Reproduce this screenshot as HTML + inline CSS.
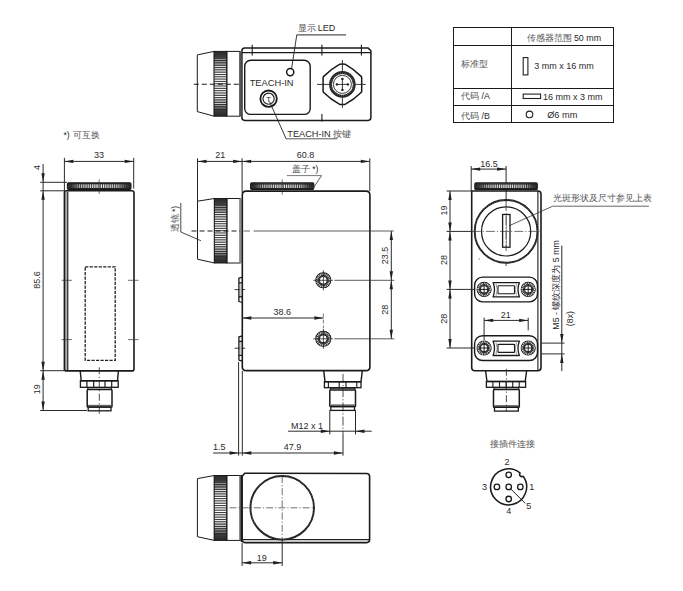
<!DOCTYPE html>
<html><head><meta charset="utf-8"><style>
html,body{margin:0;padding:0;background:#fff;width:683px;height:591px;overflow:hidden}
svg{display:block}
</style></head><body>
<svg width="683" height="591" viewBox="0 0 683 591">
<rect width="683" height="591" fill="#fff"/>
<polygon points="197.3,54.9 214.2,51.4 214.2,116.2 197.3,111.6" stroke="#1a1a1a" stroke-width="1.0" fill="none" stroke-linejoin="round"/>
<defs><linearGradient id="kv1" x1="0" y1="0" x2="0" y2="1"><stop offset="0" stop-color="#2a2a2a"/><stop offset="0.12" stop-color="#444"/><stop offset="0.3" stop-color="#9a9a9a"/><stop offset="0.5" stop-color="#b0b0b0"/><stop offset="0.7" stop-color="#9a9a9a"/><stop offset="0.86" stop-color="#444"/><stop offset="1" stop-color="#2a2a2a"/></linearGradient></defs>
<rect x="214.2" y="51.4" width="12.600000000000023" height="64.80000000000001" fill="url(#kv1)" stroke="#1a1a1a" stroke-width="1"/>
<line x1="214.7" y1="59.50" x2="226.3" y2="59.50" stroke="#fff" stroke-width="0.64" stroke-opacity="0.68"/>
<line x1="214.7" y1="60.60" x2="226.3" y2="60.60" stroke="#222" stroke-width="0.8"/>
<line x1="214.7" y1="61.81" x2="226.3" y2="61.81" stroke="#fff" stroke-width="0.71" stroke-opacity="0.78"/>
<line x1="214.7" y1="62.91" x2="226.3" y2="62.91" stroke="#222" stroke-width="0.8"/>
<line x1="214.7" y1="64.13" x2="226.3" y2="64.13" stroke="#fff" stroke-width="0.78" stroke-opacity="0.88"/>
<line x1="214.7" y1="65.23" x2="226.3" y2="65.23" stroke="#222" stroke-width="0.8"/>
<line x1="214.7" y1="66.44" x2="226.3" y2="66.44" stroke="#fff" stroke-width="0.85" stroke-opacity="0.97"/>
<line x1="214.7" y1="67.54" x2="226.3" y2="67.54" stroke="#222" stroke-width="0.8"/>
<line x1="214.7" y1="68.76" x2="226.3" y2="68.76" stroke="#fff" stroke-width="0.91" stroke-opacity="1.00"/>
<line x1="214.7" y1="69.86" x2="226.3" y2="69.86" stroke="#222" stroke-width="0.8"/>
<line x1="214.7" y1="71.07" x2="226.3" y2="71.07" stroke="#fff" stroke-width="0.96" stroke-opacity="1.00"/>
<line x1="214.7" y1="72.17" x2="226.3" y2="72.17" stroke="#222" stroke-width="0.8"/>
<line x1="214.7" y1="73.39" x2="226.3" y2="73.39" stroke="#fff" stroke-width="1.01" stroke-opacity="1.00"/>
<line x1="214.7" y1="74.49" x2="226.3" y2="74.49" stroke="#222" stroke-width="0.8"/>
<line x1="214.7" y1="75.70" x2="226.3" y2="75.70" stroke="#fff" stroke-width="1.04" stroke-opacity="1.00"/>
<line x1="214.7" y1="76.80" x2="226.3" y2="76.80" stroke="#222" stroke-width="0.8"/>
<line x1="214.7" y1="78.01" x2="226.3" y2="78.01" stroke="#fff" stroke-width="1.07" stroke-opacity="1.00"/>
<line x1="214.7" y1="79.11" x2="226.3" y2="79.11" stroke="#222" stroke-width="0.8"/>
<line x1="214.7" y1="80.33" x2="226.3" y2="80.33" stroke="#fff" stroke-width="1.09" stroke-opacity="1.00"/>
<line x1="214.7" y1="81.43" x2="226.3" y2="81.43" stroke="#222" stroke-width="0.8"/>
<line x1="214.7" y1="82.64" x2="226.3" y2="82.64" stroke="#fff" stroke-width="1.10" stroke-opacity="1.00"/>
<line x1="214.7" y1="83.74" x2="226.3" y2="83.74" stroke="#222" stroke-width="0.8"/>
<line x1="214.7" y1="84.96" x2="226.3" y2="84.96" stroke="#fff" stroke-width="1.10" stroke-opacity="1.00"/>
<line x1="214.7" y1="86.06" x2="226.3" y2="86.06" stroke="#222" stroke-width="0.8"/>
<line x1="214.7" y1="87.27" x2="226.3" y2="87.27" stroke="#fff" stroke-width="1.09" stroke-opacity="1.00"/>
<line x1="214.7" y1="88.37" x2="226.3" y2="88.37" stroke="#222" stroke-width="0.8"/>
<line x1="214.7" y1="89.59" x2="226.3" y2="89.59" stroke="#fff" stroke-width="1.07" stroke-opacity="1.00"/>
<line x1="214.7" y1="90.69" x2="226.3" y2="90.69" stroke="#222" stroke-width="0.8"/>
<line x1="214.7" y1="91.90" x2="226.3" y2="91.90" stroke="#fff" stroke-width="1.04" stroke-opacity="1.00"/>
<line x1="214.7" y1="93.00" x2="226.3" y2="93.00" stroke="#222" stroke-width="0.8"/>
<line x1="214.7" y1="94.21" x2="226.3" y2="94.21" stroke="#fff" stroke-width="1.01" stroke-opacity="1.00"/>
<line x1="214.7" y1="95.31" x2="226.3" y2="95.31" stroke="#222" stroke-width="0.8"/>
<line x1="214.7" y1="96.53" x2="226.3" y2="96.53" stroke="#fff" stroke-width="0.96" stroke-opacity="1.00"/>
<line x1="214.7" y1="97.63" x2="226.3" y2="97.63" stroke="#222" stroke-width="0.8"/>
<line x1="214.7" y1="98.84" x2="226.3" y2="98.84" stroke="#fff" stroke-width="0.91" stroke-opacity="1.00"/>
<line x1="214.7" y1="99.94" x2="226.3" y2="99.94" stroke="#222" stroke-width="0.8"/>
<line x1="214.7" y1="101.16" x2="226.3" y2="101.16" stroke="#fff" stroke-width="0.85" stroke-opacity="0.97"/>
<line x1="214.7" y1="102.26" x2="226.3" y2="102.26" stroke="#222" stroke-width="0.8"/>
<line x1="214.7" y1="103.47" x2="226.3" y2="103.47" stroke="#fff" stroke-width="0.78" stroke-opacity="0.88"/>
<line x1="214.7" y1="104.57" x2="226.3" y2="104.57" stroke="#222" stroke-width="0.8"/>
<line x1="214.7" y1="105.79" x2="226.3" y2="105.79" stroke="#fff" stroke-width="0.71" stroke-opacity="0.78"/>
<line x1="214.7" y1="106.89" x2="226.3" y2="106.89" stroke="#222" stroke-width="0.8"/>
<line x1="214.7" y1="108.10" x2="226.3" y2="108.10" stroke="#fff" stroke-width="0.64" stroke-opacity="0.68"/>
<line x1="214.7" y1="109.20" x2="226.3" y2="109.20" stroke="#222" stroke-width="0.8"/>
<rect x="226.8" y="51.4" width="13.199999999999989" height="64.80000000000001" rx="0" stroke="#1a1a1a" stroke-width="1.0" fill="none"/>
<path d="M241.9,51 Q241.9,48.1 244.8,48.1 L368.2,48.1 L370.9,50.8 L370.9,117.6 Q370.9,120.4 368.1,120.4 L244.7,120.4 Q241.9,120.4 241.9,117.6 Z" stroke="#1a1a1a" stroke-width="1.5" fill="none" stroke-linejoin="round"/>
<line x1="242" y1="52.6" x2="370.9" y2="52.6" stroke="#1a1a1a" stroke-width="1.3" stroke-linecap="butt"/>
<rect x="239.3" y="51.4" width="2.2" height="64.8" fill="#555"/>
<line x1="252.2" y1="44.8" x2="252.2" y2="55.4" stroke="#1a1a1a" stroke-width="1.1" stroke-linecap="butt"/>
<line x1="321.9" y1="44.8" x2="321.9" y2="55.4" stroke="#1a1a1a" stroke-width="1.1" stroke-linecap="butt"/>
<line x1="361.4" y1="44.8" x2="361.4" y2="55.4" stroke="#1a1a1a" stroke-width="1.1" stroke-linecap="butt"/>
<line x1="321.9" y1="114" x2="321.9" y2="121.6" stroke="#1a1a1a" stroke-width="1.1" stroke-linecap="butt"/>
<rect x="244.7" y="60.3" width="65.5" height="54.1" rx="6" stroke="#1a1a1a" stroke-width="1.4" fill="none"/>
<circle cx="290.2" cy="72.1" r="3.6" stroke="#1a1a1a" stroke-width="1.5" fill="none"/>
<text x="271.6" y="82.8" font-family="Liberation Sans" font-size="9.3" text-anchor="middle" fill="#2a2a2a" dominant-baseline="central">TEACH-IN</text>
<circle cx="268.6" cy="98.7" r="8.2" stroke="#1a1a1a" stroke-width="1.8" fill="none"/>
<circle cx="268.6" cy="98.7" r="5.6" stroke="#1a1a1a" stroke-width="1.1" fill="none"/>
<text x="268.6" y="99.4" font-family="Liberation Sans" font-size="7.8" text-anchor="middle" fill="#2a2a2a" dominant-baseline="central">T</text>
<line x1="193.8" y1="84.2" x2="241" y2="84.2" stroke="#1a1a1a" stroke-width="1.1" stroke-dasharray="5 3" stroke-linecap="butt"/>
<path d="M339.8,64.2 Q342.4,63.8 345,64.2 Q354.0,69.3 361.4,76.6 Q361.7,77.3 361.7,78.4 L361.7,90.4 Q361.7,91.5 361.4,92.2 Q354.0,99.5 345,104.4 Q342.4,104.8 339.8,104.4 Q330.8,99.5 323.4,92.2 Q323.1,91.5 323.1,90.4 L323.1,78.4 Q323.1,77.3 323.4,76.6 Q330.8,69.3 339.8,64.2 Z" stroke="#1a1a1a" stroke-width="1.5" fill="none" stroke-linejoin="round"/>
<circle cx="342.4" cy="84.4" r="11.9" stroke="#1e1e1e" stroke-width="2.8" fill="none"/>
<circle cx="342.4" cy="84.4" r="11.2" stroke="#bbb" stroke-width="0.6" fill="none" stroke-dasharray="0.8 1.2"/>
<circle cx="342.4" cy="84.4" r="12.6" stroke="#888" stroke-width="0.5" fill="none" stroke-dasharray="0.8 1.4"/>
<circle cx="342.4" cy="84.4" r="9.0" stroke="#222" stroke-width="0.9" fill="none"/>
<line x1="317" y1="84.4" x2="329.3" y2="84.4" stroke="#222" stroke-width="0.9" stroke-linecap="butt"/>
<line x1="355.5" y1="84.4" x2="365.7" y2="84.4" stroke="#222" stroke-width="0.9" stroke-linecap="butt"/>
<line x1="342.4" y1="60" x2="342.4" y2="71.2" stroke="#222" stroke-width="0.9" stroke-linecap="butt"/>
<line x1="342.4" y1="97.6" x2="342.4" y2="107.8" stroke="#222" stroke-width="0.9" stroke-linecap="butt"/>
<line x1="336.0" y1="84.4" x2="348.79999999999995" y2="84.4" stroke="#222" stroke-width="0.9" stroke-linecap="butt"/>
<line x1="342.4" y1="78.0" x2="342.4" y2="90.80000000000001" stroke="#222" stroke-width="0.9" stroke-linecap="butt"/>
<circle cx="347.9" cy="84.4" r="1.2" stroke="#1a1a1a" stroke-width="0" fill="#1a1a1a"/>
<circle cx="336.9" cy="84.4" r="1.2" stroke="#1a1a1a" stroke-width="0" fill="#1a1a1a"/>
<circle cx="342.4" cy="89.9" r="1.2" stroke="#1a1a1a" stroke-width="0" fill="#1a1a1a"/>
<circle cx="342.4" cy="78.9" r="1.2" stroke="#1a1a1a" stroke-width="0" fill="#1a1a1a"/>
<text x="297.5" y="28.2" font-family="&quot;Liberation Serif&quot;, serif" font-size="9" text-anchor="start" fill="#555" dominant-baseline="central" font-weight="300">显示 <tspan font-family="Liberation Sans" fill="#2a2a2a">LED</tspan></text>
<line x1="296.8" y1="34.8" x2="346" y2="34.8" stroke="#555" stroke-width="1.2" stroke-linecap="butt"/>
<line x1="296.8" y1="34.8" x2="291.6" y2="68.5" stroke="#222" stroke-width="0.9" stroke-linecap="butt"/>
<text x="287.3" y="133.8" font-family="&quot;Liberation Serif&quot;, serif" font-size="9.2" text-anchor="start" fill="#555" dominant-baseline="central" font-weight="300"><tspan font-family="Liberation Sans" fill="#2a2a2a">TEACH-IN</tspan> 按键</text>
<line x1="286.1" y1="138.8" x2="337.3" y2="138.8" stroke="#444" stroke-width="0.9" stroke-linecap="butt"/>
<line x1="269.5" y1="101.5" x2="286.1" y2="138.8" stroke="#222" stroke-width="0.9" stroke-linecap="butt"/>
<text x="63.4" y="135.0" font-family="Liberation Sans" font-size="8.6" text-anchor="start" fill="#2a2a2a" dominant-baseline="central">*)</text>
<text x="73.1" y="135.0" font-family="&quot;Liberation Serif&quot;, serif" font-size="8.6" text-anchor="start" fill="#555" dominant-baseline="central" font-weight="300">可互换</text>
<line x1="64.4" y1="157.8" x2="64.4" y2="191" stroke="#2a2a2a" stroke-width="1.0" stroke-linecap="butt"/>
<line x1="133.7" y1="157.8" x2="133.7" y2="188.5" stroke="#2a2a2a" stroke-width="1.0" stroke-linecap="butt"/>
<line x1="64.4" y1="161.4" x2="133.7" y2="161.4" stroke="#2a2a2a" stroke-width="1.0" stroke-linecap="butt"/>
<polygon points="64.4,161.4 73.40,159.70 73.40,163.10" fill="#1e1e1e"/>
<polygon points="133.7,161.4 124.70,163.10 124.70,159.70" fill="#1e1e1e"/>
<text x="99" y="154.8" font-family="Liberation Sans" font-size="9" text-anchor="middle" fill="#2a2a2a" dominant-baseline="central">33</text>
<defs><linearGradient id="kh2" x1="0" y1="0" x2="1" y2="0"><stop offset="0" stop-color="#2a2a2a"/><stop offset="0.06" stop-color="#3a3a3a"/><stop offset="0.2" stop-color="#bbb"/><stop offset="0.5" stop-color="#eee"/><stop offset="0.8" stop-color="#bbb"/><stop offset="0.94" stop-color="#3a3a3a"/><stop offset="1" stop-color="#2a2a2a"/></linearGradient></defs>
<rect x="67.4" y="182.8" width="63.599999999999994" height="6.599999999999994" rx="1.2" fill="url(#kh2)" stroke="#1a1a1a" stroke-width="1.1"/>
<line x1="69.59" y1="183.3" x2="69.59" y2="188.9" stroke="#2a2a2a" stroke-width="0.85"/>
<line x1="71.79" y1="183.3" x2="71.79" y2="188.9" stroke="#2a2a2a" stroke-width="0.85"/>
<line x1="73.98" y1="183.3" x2="73.98" y2="188.9" stroke="#2a2a2a" stroke-width="0.85"/>
<line x1="76.17" y1="183.3" x2="76.17" y2="188.9" stroke="#2a2a2a" stroke-width="0.85"/>
<line x1="78.37" y1="183.3" x2="78.37" y2="188.9" stroke="#2a2a2a" stroke-width="0.85"/>
<line x1="80.56" y1="183.3" x2="80.56" y2="188.9" stroke="#2a2a2a" stroke-width="0.85"/>
<line x1="82.75" y1="183.3" x2="82.75" y2="188.9" stroke="#2a2a2a" stroke-width="0.85"/>
<line x1="84.94" y1="183.3" x2="84.94" y2="188.9" stroke="#2a2a2a" stroke-width="0.85"/>
<line x1="87.14" y1="183.3" x2="87.14" y2="188.9" stroke="#2a2a2a" stroke-width="0.85"/>
<line x1="89.33" y1="183.3" x2="89.33" y2="188.9" stroke="#2a2a2a" stroke-width="0.85"/>
<line x1="91.52" y1="183.3" x2="91.52" y2="188.9" stroke="#2a2a2a" stroke-width="0.85"/>
<line x1="93.72" y1="183.3" x2="93.72" y2="188.9" stroke="#2a2a2a" stroke-width="0.85"/>
<line x1="95.91" y1="183.3" x2="95.91" y2="188.9" stroke="#2a2a2a" stroke-width="0.85"/>
<line x1="98.10" y1="183.3" x2="98.10" y2="188.9" stroke="#2a2a2a" stroke-width="0.85"/>
<line x1="100.30" y1="183.3" x2="100.30" y2="188.9" stroke="#2a2a2a" stroke-width="0.85"/>
<line x1="102.49" y1="183.3" x2="102.49" y2="188.9" stroke="#2a2a2a" stroke-width="0.85"/>
<line x1="104.68" y1="183.3" x2="104.68" y2="188.9" stroke="#2a2a2a" stroke-width="0.85"/>
<line x1="106.88" y1="183.3" x2="106.88" y2="188.9" stroke="#2a2a2a" stroke-width="0.85"/>
<line x1="109.07" y1="183.3" x2="109.07" y2="188.9" stroke="#2a2a2a" stroke-width="0.85"/>
<line x1="111.26" y1="183.3" x2="111.26" y2="188.9" stroke="#2a2a2a" stroke-width="0.85"/>
<line x1="113.46" y1="183.3" x2="113.46" y2="188.9" stroke="#2a2a2a" stroke-width="0.85"/>
<line x1="115.65" y1="183.3" x2="115.65" y2="188.9" stroke="#2a2a2a" stroke-width="0.85"/>
<line x1="117.84" y1="183.3" x2="117.84" y2="188.9" stroke="#2a2a2a" stroke-width="0.85"/>
<line x1="120.03" y1="183.3" x2="120.03" y2="188.9" stroke="#2a2a2a" stroke-width="0.85"/>
<line x1="122.23" y1="183.3" x2="122.23" y2="188.9" stroke="#2a2a2a" stroke-width="0.85"/>
<line x1="124.42" y1="183.3" x2="124.42" y2="188.9" stroke="#2a2a2a" stroke-width="0.85"/>
<line x1="126.61" y1="183.3" x2="126.61" y2="188.9" stroke="#2a2a2a" stroke-width="0.85"/>
<line x1="128.81" y1="183.3" x2="128.81" y2="188.9" stroke="#2a2a2a" stroke-width="0.85"/>
<line x1="67.9" y1="183.70000000000002" x2="130.5" y2="183.70000000000002" stroke="#222" stroke-width="1.2"/>
<line x1="67.9" y1="188.5" x2="130.5" y2="188.5" stroke="#222" stroke-width="1.2"/>
<line x1="99.2" y1="179.5" x2="99.2" y2="194" stroke="#333" stroke-width="0.7" stroke-linecap="butt"/>
<rect x="64.9" y="192" width="2.9" height="178" fill="#aaa"/>
<path d="M64.4,370.7 L64.4,193 Q64.4,190.8 66.6,190.8 L131.8,190.8 Q134,190.8 134,193 L134,368.9 Q134,370.9 132,370.9 L66.4,370.9 Q64.4,370.9 64.4,368.9" stroke="#1a1a1a" stroke-width="1.6" fill="none" stroke-linejoin="round"/>
<line x1="67.8" y1="191.5" x2="67.8" y2="370.2" stroke="#1a1a1a" stroke-width="1.1" stroke-linecap="butt"/>
<rect x="85.2" y="266.8" width="30" height="93.5" fill="none" stroke="#222" stroke-width="1.3" stroke-dasharray="3.2 1.3"/>
<line x1="61.5" y1="280.3" x2="72" y2="280.3" stroke="#333" stroke-width="0.7" stroke-linecap="butt"/>
<line x1="128" y1="280.3" x2="138.5" y2="280.3" stroke="#333" stroke-width="0.7" stroke-linecap="butt"/>
<line x1="61.5" y1="339.6" x2="72" y2="339.6" stroke="#333" stroke-width="0.7" stroke-linecap="butt"/>
<line x1="128" y1="339.6" x2="138.5" y2="339.6" stroke="#333" stroke-width="0.7" stroke-linecap="butt"/>
<line x1="43.1" y1="164" x2="43.1" y2="410.5" stroke="#2a2a2a" stroke-width="1.0" stroke-linecap="butt"/>
<line x1="40.2" y1="182.3" x2="67" y2="182.3" stroke="#2a2a2a" stroke-width="1.0" stroke-linecap="butt"/>
<line x1="40.2" y1="190.8" x2="64.4" y2="190.8" stroke="#2a2a2a" stroke-width="1.0" stroke-linecap="butt"/>
<line x1="40.2" y1="370.7" x2="64.4" y2="370.7" stroke="#2a2a2a" stroke-width="1.0" stroke-linecap="butt"/>
<line x1="40.2" y1="410.5" x2="87" y2="410.5" stroke="#2a2a2a" stroke-width="1.0" stroke-linecap="butt"/>
<polygon points="43.1,182.3 41.40,173.30 44.80,173.30" fill="#1e1e1e"/>
<polygon points="43.1,190.8 44.80,199.80 41.40,199.80" fill="#1e1e1e"/>
<polygon points="43.1,370.7 41.40,361.70 44.80,361.70" fill="#1e1e1e"/>
<polygon points="43.1,370.7 44.80,379.70 41.40,379.70" fill="#1e1e1e"/>
<polygon points="43.1,410.5 41.40,401.50 44.80,401.50" fill="#1e1e1e"/>
<text x="36.6" y="167.5" font-family="Liberation Sans" font-size="9" text-anchor="middle" fill="#2a2a2a" dominant-baseline="central" transform="rotate(-90 36.6 167.5)">4</text>
<text x="36.6" y="280" font-family="Liberation Sans" font-size="9" text-anchor="middle" fill="#2a2a2a" dominant-baseline="central" transform="rotate(-90 36.6 280)">85.6</text>
<text x="36.6" y="389.3" font-family="Liberation Sans" font-size="9" text-anchor="middle" fill="#2a2a2a" dominant-baseline="central" transform="rotate(-90 36.6 389.3)">19</text>
<polyline points="80.2,370.8 81.2,380.8 117.5,380.8 118.4,370.8" stroke="#1a1a1a" stroke-width="1.4" fill="none" stroke-linejoin="round"/>
<rect x="80.4" y="380.8" width="37.8" height="6.5" rx="0" stroke="#1a1a1a" stroke-width="1.3" fill="none"/>
<line x1="86.9" y1="380.8" x2="86.9" y2="387.3" stroke="#1a1a1a" stroke-width="1.2" stroke-linecap="butt"/>
<line x1="93.7" y1="380.8" x2="93.7" y2="387.3" stroke="#1a1a1a" stroke-width="1.2" stroke-linecap="butt"/>
<line x1="105" y1="380.8" x2="105" y2="387.3" stroke="#1a1a1a" stroke-width="1.2" stroke-linecap="butt"/>
<line x1="111.7" y1="380.8" x2="111.7" y2="387.3" stroke="#1a1a1a" stroke-width="1.2" stroke-linecap="butt"/>
<path d="M87.8,389.6 L87.8,387.8 L111.4,387.8 L111.4,389.6" stroke="#1a1a1a" stroke-width="1.1" fill="none" stroke-linejoin="round"/>
<rect x="87.2" y="389.6" width="24.799999999999997" height="17.399999999999977" rx="0.8" stroke="#1a1a1a" stroke-width="1.5" fill="none"/>
<rect x="88.0" y="404.8" width="23.199999999999996" height="2.2" fill="#666"/>
<rect x="88.2" y="407.0" width="22.799999999999997" height="3.8000000000000114" rx="0" stroke="#1a1a1a" stroke-width="1.3" fill="none"/>
<line x1="99.3" y1="367.3" x2="99.3" y2="413.8" stroke="#222" stroke-width="0.8" stroke-dasharray="7 2.5 1.2 2.5" stroke-linecap="butt"/>
<line x1="197.5" y1="158.3" x2="197.5" y2="201.6" stroke="#2a2a2a" stroke-width="1.0" stroke-linecap="butt"/>
<line x1="242.1" y1="158.3" x2="242.1" y2="193" stroke="#2a2a2a" stroke-width="1.0" stroke-linecap="butt"/>
<line x1="369.8" y1="158.3" x2="369.8" y2="191" stroke="#2a2a2a" stroke-width="1.0" stroke-linecap="butt"/>
<line x1="197.5" y1="161.4" x2="369.8" y2="161.4" stroke="#2a2a2a" stroke-width="1.0" stroke-linecap="butt"/>
<polygon points="197.5,161.4 206.50,159.70 206.50,163.10" fill="#1e1e1e"/>
<polygon points="242.1,161.4 233.10,163.10 233.10,159.70" fill="#1e1e1e"/>
<polygon points="242.1,161.4 251.10,159.70 251.10,163.10" fill="#1e1e1e"/>
<polygon points="369.8,161.4 360.80,163.10 360.80,159.70" fill="#1e1e1e"/>
<text x="220.3" y="154.8" font-family="Liberation Sans" font-size="9" text-anchor="middle" fill="#2a2a2a" dominant-baseline="central">21</text>
<text x="305.6" y="155.0" font-family="Liberation Sans" font-size="9" text-anchor="middle" fill="#2a2a2a" dominant-baseline="central">60.8</text>
<defs><linearGradient id="kh3" x1="0" y1="0" x2="1" y2="0"><stop offset="0" stop-color="#2a2a2a"/><stop offset="0.06" stop-color="#3a3a3a"/><stop offset="0.2" stop-color="#bbb"/><stop offset="0.5" stop-color="#eee"/><stop offset="0.8" stop-color="#bbb"/><stop offset="0.94" stop-color="#3a3a3a"/><stop offset="1" stop-color="#2a2a2a"/></linearGradient></defs>
<rect x="250.6" y="182.9" width="63.20000000000002" height="6.599999999999994" rx="1.2" fill="url(#kh3)" stroke="#1a1a1a" stroke-width="1.1"/>
<line x1="252.78" y1="183.4" x2="252.78" y2="189.0" stroke="#2a2a2a" stroke-width="0.85"/>
<line x1="254.96" y1="183.4" x2="254.96" y2="189.0" stroke="#2a2a2a" stroke-width="0.85"/>
<line x1="257.14" y1="183.4" x2="257.14" y2="189.0" stroke="#2a2a2a" stroke-width="0.85"/>
<line x1="259.32" y1="183.4" x2="259.32" y2="189.0" stroke="#2a2a2a" stroke-width="0.85"/>
<line x1="261.50" y1="183.4" x2="261.50" y2="189.0" stroke="#2a2a2a" stroke-width="0.85"/>
<line x1="263.68" y1="183.4" x2="263.68" y2="189.0" stroke="#2a2a2a" stroke-width="0.85"/>
<line x1="265.86" y1="183.4" x2="265.86" y2="189.0" stroke="#2a2a2a" stroke-width="0.85"/>
<line x1="268.03" y1="183.4" x2="268.03" y2="189.0" stroke="#2a2a2a" stroke-width="0.85"/>
<line x1="270.21" y1="183.4" x2="270.21" y2="189.0" stroke="#2a2a2a" stroke-width="0.85"/>
<line x1="272.39" y1="183.4" x2="272.39" y2="189.0" stroke="#2a2a2a" stroke-width="0.85"/>
<line x1="274.57" y1="183.4" x2="274.57" y2="189.0" stroke="#2a2a2a" stroke-width="0.85"/>
<line x1="276.75" y1="183.4" x2="276.75" y2="189.0" stroke="#2a2a2a" stroke-width="0.85"/>
<line x1="278.93" y1="183.4" x2="278.93" y2="189.0" stroke="#2a2a2a" stroke-width="0.85"/>
<line x1="281.11" y1="183.4" x2="281.11" y2="189.0" stroke="#2a2a2a" stroke-width="0.85"/>
<line x1="283.29" y1="183.4" x2="283.29" y2="189.0" stroke="#2a2a2a" stroke-width="0.85"/>
<line x1="285.47" y1="183.4" x2="285.47" y2="189.0" stroke="#2a2a2a" stroke-width="0.85"/>
<line x1="287.65" y1="183.4" x2="287.65" y2="189.0" stroke="#2a2a2a" stroke-width="0.85"/>
<line x1="289.83" y1="183.4" x2="289.83" y2="189.0" stroke="#2a2a2a" stroke-width="0.85"/>
<line x1="292.01" y1="183.4" x2="292.01" y2="189.0" stroke="#2a2a2a" stroke-width="0.85"/>
<line x1="294.19" y1="183.4" x2="294.19" y2="189.0" stroke="#2a2a2a" stroke-width="0.85"/>
<line x1="296.37" y1="183.4" x2="296.37" y2="189.0" stroke="#2a2a2a" stroke-width="0.85"/>
<line x1="298.54" y1="183.4" x2="298.54" y2="189.0" stroke="#2a2a2a" stroke-width="0.85"/>
<line x1="300.72" y1="183.4" x2="300.72" y2="189.0" stroke="#2a2a2a" stroke-width="0.85"/>
<line x1="302.90" y1="183.4" x2="302.90" y2="189.0" stroke="#2a2a2a" stroke-width="0.85"/>
<line x1="305.08" y1="183.4" x2="305.08" y2="189.0" stroke="#2a2a2a" stroke-width="0.85"/>
<line x1="307.26" y1="183.4" x2="307.26" y2="189.0" stroke="#2a2a2a" stroke-width="0.85"/>
<line x1="309.44" y1="183.4" x2="309.44" y2="189.0" stroke="#2a2a2a" stroke-width="0.85"/>
<line x1="311.62" y1="183.4" x2="311.62" y2="189.0" stroke="#2a2a2a" stroke-width="0.85"/>
<line x1="251.1" y1="183.8" x2="313.3" y2="183.8" stroke="#222" stroke-width="1.2"/>
<line x1="251.1" y1="188.6" x2="313.3" y2="188.6" stroke="#222" stroke-width="1.2"/>
<line x1="282.2" y1="179.5" x2="282.2" y2="194.5" stroke="#333" stroke-width="0.7" stroke-linecap="butt"/>
<text x="305.3" y="169.0" font-family="&quot;Liberation Serif&quot;, serif" font-size="8.6" text-anchor="middle" fill="#555" dominant-baseline="central" font-weight="300">盖子 <tspan font-family="Liberation Sans" fill="#2a2a2a" font-weight="400">*)</tspan></text>
<line x1="286.8" y1="175.6" x2="321.5" y2="175.6" stroke="#555" stroke-width="0.8" stroke-linecap="butt"/>
<line x1="321.5" y1="175.6" x2="312.6" y2="189.2" stroke="#333" stroke-width="0.8" stroke-linecap="butt"/>
<polygon points="197.5,201.2 214.4,198.5 214.4,263.0 197.5,259.2" stroke="#1a1a1a" stroke-width="1.0" fill="none" stroke-linejoin="round"/>
<defs><linearGradient id="kv4" x1="0" y1="0" x2="0" y2="1"><stop offset="0" stop-color="#2a2a2a"/><stop offset="0.12" stop-color="#444"/><stop offset="0.3" stop-color="#9a9a9a"/><stop offset="0.5" stop-color="#b0b0b0"/><stop offset="0.7" stop-color="#9a9a9a"/><stop offset="0.86" stop-color="#444"/><stop offset="1" stop-color="#2a2a2a"/></linearGradient></defs>
<rect x="214.4" y="198.5" width="12.5" height="64.5" fill="url(#kv4)" stroke="#1a1a1a" stroke-width="1"/>
<line x1="214.9" y1="206.56" x2="226.4" y2="206.56" stroke="#fff" stroke-width="0.64" stroke-opacity="0.68"/>
<line x1="214.9" y1="207.66" x2="226.4" y2="207.66" stroke="#222" stroke-width="0.8"/>
<line x1="214.9" y1="208.87" x2="226.4" y2="208.87" stroke="#fff" stroke-width="0.71" stroke-opacity="0.78"/>
<line x1="214.9" y1="209.97" x2="226.4" y2="209.97" stroke="#222" stroke-width="0.8"/>
<line x1="214.9" y1="211.17" x2="226.4" y2="211.17" stroke="#fff" stroke-width="0.78" stroke-opacity="0.88"/>
<line x1="214.9" y1="212.27" x2="226.4" y2="212.27" stroke="#222" stroke-width="0.8"/>
<line x1="214.9" y1="213.47" x2="226.4" y2="213.47" stroke="#fff" stroke-width="0.85" stroke-opacity="0.97"/>
<line x1="214.9" y1="214.57" x2="226.4" y2="214.57" stroke="#222" stroke-width="0.8"/>
<line x1="214.9" y1="215.78" x2="226.4" y2="215.78" stroke="#fff" stroke-width="0.91" stroke-opacity="1.00"/>
<line x1="214.9" y1="216.88" x2="226.4" y2="216.88" stroke="#222" stroke-width="0.8"/>
<line x1="214.9" y1="218.08" x2="226.4" y2="218.08" stroke="#fff" stroke-width="0.96" stroke-opacity="1.00"/>
<line x1="214.9" y1="219.18" x2="226.4" y2="219.18" stroke="#222" stroke-width="0.8"/>
<line x1="214.9" y1="220.38" x2="226.4" y2="220.38" stroke="#fff" stroke-width="1.01" stroke-opacity="1.00"/>
<line x1="214.9" y1="221.48" x2="226.4" y2="221.48" stroke="#222" stroke-width="0.8"/>
<line x1="214.9" y1="222.69" x2="226.4" y2="222.69" stroke="#fff" stroke-width="1.04" stroke-opacity="1.00"/>
<line x1="214.9" y1="223.79" x2="226.4" y2="223.79" stroke="#222" stroke-width="0.8"/>
<line x1="214.9" y1="224.99" x2="226.4" y2="224.99" stroke="#fff" stroke-width="1.07" stroke-opacity="1.00"/>
<line x1="214.9" y1="226.09" x2="226.4" y2="226.09" stroke="#222" stroke-width="0.8"/>
<line x1="214.9" y1="227.29" x2="226.4" y2="227.29" stroke="#fff" stroke-width="1.09" stroke-opacity="1.00"/>
<line x1="214.9" y1="228.39" x2="226.4" y2="228.39" stroke="#222" stroke-width="0.8"/>
<line x1="214.9" y1="229.60" x2="226.4" y2="229.60" stroke="#fff" stroke-width="1.10" stroke-opacity="1.00"/>
<line x1="214.9" y1="230.70" x2="226.4" y2="230.70" stroke="#222" stroke-width="0.8"/>
<line x1="214.9" y1="231.90" x2="226.4" y2="231.90" stroke="#fff" stroke-width="1.10" stroke-opacity="1.00"/>
<line x1="214.9" y1="233.00" x2="226.4" y2="233.00" stroke="#222" stroke-width="0.8"/>
<line x1="214.9" y1="234.21" x2="226.4" y2="234.21" stroke="#fff" stroke-width="1.09" stroke-opacity="1.00"/>
<line x1="214.9" y1="235.31" x2="226.4" y2="235.31" stroke="#222" stroke-width="0.8"/>
<line x1="214.9" y1="236.51" x2="226.4" y2="236.51" stroke="#fff" stroke-width="1.07" stroke-opacity="1.00"/>
<line x1="214.9" y1="237.61" x2="226.4" y2="237.61" stroke="#222" stroke-width="0.8"/>
<line x1="214.9" y1="238.81" x2="226.4" y2="238.81" stroke="#fff" stroke-width="1.04" stroke-opacity="1.00"/>
<line x1="214.9" y1="239.91" x2="226.4" y2="239.91" stroke="#222" stroke-width="0.8"/>
<line x1="214.9" y1="241.12" x2="226.4" y2="241.12" stroke="#fff" stroke-width="1.01" stroke-opacity="1.00"/>
<line x1="214.9" y1="242.22" x2="226.4" y2="242.22" stroke="#222" stroke-width="0.8"/>
<line x1="214.9" y1="243.42" x2="226.4" y2="243.42" stroke="#fff" stroke-width="0.96" stroke-opacity="1.00"/>
<line x1="214.9" y1="244.52" x2="226.4" y2="244.52" stroke="#222" stroke-width="0.8"/>
<line x1="214.9" y1="245.72" x2="226.4" y2="245.72" stroke="#fff" stroke-width="0.91" stroke-opacity="1.00"/>
<line x1="214.9" y1="246.82" x2="226.4" y2="246.82" stroke="#222" stroke-width="0.8"/>
<line x1="214.9" y1="248.03" x2="226.4" y2="248.03" stroke="#fff" stroke-width="0.85" stroke-opacity="0.97"/>
<line x1="214.9" y1="249.13" x2="226.4" y2="249.13" stroke="#222" stroke-width="0.8"/>
<line x1="214.9" y1="250.33" x2="226.4" y2="250.33" stroke="#fff" stroke-width="0.78" stroke-opacity="0.88"/>
<line x1="214.9" y1="251.43" x2="226.4" y2="251.43" stroke="#222" stroke-width="0.8"/>
<line x1="214.9" y1="252.63" x2="226.4" y2="252.63" stroke="#fff" stroke-width="0.71" stroke-opacity="0.78"/>
<line x1="214.9" y1="253.73" x2="226.4" y2="253.73" stroke="#222" stroke-width="0.8"/>
<line x1="214.9" y1="254.94" x2="226.4" y2="254.94" stroke="#fff" stroke-width="0.64" stroke-opacity="0.68"/>
<line x1="214.9" y1="256.04" x2="226.4" y2="256.04" stroke="#222" stroke-width="0.8"/>
<rect x="226.9" y="198.5" width="13.299999999999983" height="64.5" rx="0" stroke="#1a1a1a" stroke-width="1.0" fill="none"/>
<rect x="239.3" y="198.5" width="2.3" height="64.5" fill="#8a8a8a"/>
<text x="175.0" y="219" font-family="&quot;Liberation Serif&quot;, serif" font-size="8.6" text-anchor="middle" fill="#555" dominant-baseline="central" transform="rotate(-90 175.0 219)" font-weight="300">透镜 <tspan font-family="Liberation Sans" fill="#2a2a2a" font-weight="400">*)</tspan></text>
<path d="M180.8,203 L180.8,232 L200.9,240.7" stroke="#333" stroke-width="0.9" fill="none" stroke-linejoin="round"/>
<path d="M242.3,195 Q242.3,191.1 246.2,191.1 L366,191.1 Q369.9,191.1 369.9,195 L369.9,366.7 Q369.9,370.6 366,370.6 L246.2,370.6 Q242.3,370.6 242.3,366.7 Z" stroke="#1a1a1a" stroke-width="1.6" fill="none" stroke-linejoin="round"/>
<polyline points="242.3,277.4 238.9,278.2 238.9,301.5 242.3,302.5" stroke="#1a1a1a" stroke-width="1.3" fill="none" stroke-linejoin="round"/>
<line x1="238.9" y1="282.79999999999995" x2="242.3" y2="282.79999999999995" stroke="#1a1a1a" stroke-width="1.3" stroke-linecap="butt"/>
<line x1="238.9" y1="296.8" x2="242.3" y2="296.8" stroke="#1a1a1a" stroke-width="1.3" stroke-linecap="butt"/>
<line x1="240.6" y1="283.4" x2="240.6" y2="296.2" stroke="#999" stroke-width="0.6" stroke-linecap="butt"/>
<line x1="234.6" y1="289.6" x2="239.6" y2="289.6" stroke="#222" stroke-width="0.9" stroke-linecap="butt"/>
<line x1="241.4" y1="289.6" x2="245.2" y2="289.6" stroke="#222" stroke-width="0.9" stroke-linecap="butt"/>
<polyline points="242.3,336 238.9,336.8 238.9,360.09999999999997 242.3,361.09999999999997" stroke="#1a1a1a" stroke-width="1.3" fill="none" stroke-linejoin="round"/>
<line x1="238.9" y1="341.4" x2="242.3" y2="341.4" stroke="#1a1a1a" stroke-width="1.3" stroke-linecap="butt"/>
<line x1="238.9" y1="355.4" x2="242.3" y2="355.4" stroke="#1a1a1a" stroke-width="1.3" stroke-linecap="butt"/>
<line x1="240.6" y1="342" x2="240.6" y2="354.79999999999995" stroke="#999" stroke-width="0.6" stroke-linecap="butt"/>
<line x1="234.6" y1="348.2" x2="239.6" y2="348.2" stroke="#222" stroke-width="0.9" stroke-linecap="butt"/>
<line x1="241.4" y1="348.2" x2="245.2" y2="348.2" stroke="#222" stroke-width="0.9" stroke-linecap="butt"/>
<line x1="191.5" y1="231.0" x2="240" y2="231.0" stroke="#1a1a1a" stroke-width="1.1" stroke-dasharray="5 3" stroke-linecap="butt"/>
<line x1="243.5" y1="231.0" x2="250" y2="231.0" stroke="#444" stroke-width="0.8" stroke-linecap="butt"/>
<line x1="253.6" y1="231.0" x2="393.8" y2="231.0" stroke="#333" stroke-width="0.8" stroke-linecap="butt"/>
<circle cx="323.3" cy="280.3" r="7.5" stroke="#1a1a1a" stroke-width="1.1" fill="#3a3a3a"/>
<circle cx="323.3" cy="280.3" r="6.3" stroke="#f2f2f2" stroke-width="1.7" fill="none" stroke-dasharray="0.8 0.9"/>
<circle cx="323.3" cy="280.3" r="4.0" stroke="#1c1c1c" stroke-width="1.0" fill="#fff"/>
<line x1="313.3" y1="280.3" x2="332.9" y2="280.3" stroke="#222" stroke-width="0.8" stroke-linecap="butt"/>
<line x1="323.4" y1="270.3" x2="323.4" y2="290.3" stroke="#222" stroke-width="0.8" stroke-linecap="butt"/>
<line x1="334.3" y1="280.3" x2="394.3" y2="280.3" stroke="#333" stroke-width="0.8" stroke-linecap="butt"/>
<circle cx="323.3" cy="338.8" r="7.5" stroke="#1a1a1a" stroke-width="1.1" fill="#3a3a3a"/>
<circle cx="323.3" cy="338.8" r="6.3" stroke="#f2f2f2" stroke-width="1.7" fill="none" stroke-dasharray="0.8 0.9"/>
<circle cx="323.3" cy="338.8" r="4.0" stroke="#1c1c1c" stroke-width="1.0" fill="#fff"/>
<line x1="313.3" y1="338.8" x2="332.9" y2="338.8" stroke="#222" stroke-width="0.8" stroke-linecap="butt"/>
<line x1="323.4" y1="328.8" x2="323.4" y2="348.8" stroke="#222" stroke-width="0.8" stroke-linecap="butt"/>
<line x1="334.3" y1="338.8" x2="394.3" y2="338.8" stroke="#333" stroke-width="0.8" stroke-linecap="butt"/>
<line x1="391.3" y1="231" x2="391.3" y2="338.8" stroke="#2a2a2a" stroke-width="1.0" stroke-linecap="butt"/>
<polygon points="391.3,231 393.00,240.00 389.60,240.00" fill="#1e1e1e"/>
<polygon points="391.3,280.3 389.60,271.30 393.00,271.30" fill="#1e1e1e"/>
<polygon points="391.3,280.3 393.00,289.30 389.60,289.30" fill="#1e1e1e"/>
<polygon points="391.3,338.8 389.60,329.80 393.00,329.80" fill="#1e1e1e"/>
<text x="384.8" y="255.4" font-family="Liberation Sans" font-size="9" text-anchor="middle" fill="#2a2a2a" dominant-baseline="central" transform="rotate(-90 384.8 255.4)">23.5</text>
<text x="384.8" y="309.7" font-family="Liberation Sans" font-size="9" text-anchor="middle" fill="#2a2a2a" dominant-baseline="central" transform="rotate(-90 384.8 309.7)">28</text>
<line x1="242.3" y1="318" x2="323.4" y2="318" stroke="#2a2a2a" stroke-width="1.0" stroke-linecap="butt"/>
<polygon points="242.3,318 251.30,316.30 251.30,319.70" fill="#1e1e1e"/>
<polygon points="323.4,318 314.40,319.70 314.40,316.30" fill="#1e1e1e"/>
<line x1="323.4" y1="313.5" x2="323.4" y2="328" stroke="#444" stroke-width="0.7" stroke-dasharray="4 2" stroke-linecap="butt"/>
<text x="282.3" y="312.2" font-family="Liberation Sans" font-size="9" text-anchor="middle" fill="#2a2a2a" dominant-baseline="central">38.6</text>
<polyline points="323.7,370.6 325,381.7 361,381.7 362.3,370.6" stroke="#1a1a1a" stroke-width="1.4" fill="none" stroke-linejoin="round"/>
<rect x="324.4" y="381.7" width="36.6" height="6.0" rx="0" stroke="#1a1a1a" stroke-width="1.3" fill="none"/>
<line x1="328.4" y1="381.7" x2="328.4" y2="387.7" stroke="#1a1a1a" stroke-width="1.1" stroke-linecap="butt"/>
<line x1="339.2" y1="381.7" x2="339.2" y2="387.7" stroke="#1a1a1a" stroke-width="1.1" stroke-linecap="butt"/>
<line x1="346" y1="381.7" x2="346" y2="387.7" stroke="#1a1a1a" stroke-width="1.1" stroke-linecap="butt"/>
<line x1="356.8" y1="381.7" x2="356.8" y2="387.7" stroke="#1a1a1a" stroke-width="1.1" stroke-linecap="butt"/>
<path d="M330.40000000000003,390.0 L330.40000000000003,388.2 L354.9,388.2 L354.9,390.0" stroke="#1a1a1a" stroke-width="1.1" fill="none" stroke-linejoin="round"/>
<rect x="329.8" y="390.0" width="25.69999999999999" height="16.599999999999966" rx="0.8" stroke="#1a1a1a" stroke-width="1.5" fill="none"/>
<rect x="330.6" y="404.4" width="24.099999999999987" height="2.2" fill="#666"/>
<rect x="330.8" y="406.59999999999997" width="23.69999999999999" height="3.8000000000000114" rx="0" stroke="#1a1a1a" stroke-width="1.3" fill="none"/>
<line x1="343" y1="374" x2="343" y2="434" stroke="#222" stroke-width="0.8" stroke-dasharray="9 2 1.2 2" stroke-linecap="butt"/>
<line x1="343" y1="434" x2="343" y2="455.7" stroke="#2a2a2a" stroke-width="1.0" stroke-linecap="butt"/>
<line x1="329.8" y1="410" x2="329.8" y2="434.4" stroke="#2a2a2a" stroke-width="1.0" stroke-linecap="butt"/>
<line x1="355.5" y1="410" x2="355.5" y2="434.4" stroke="#2a2a2a" stroke-width="1.0" stroke-linecap="butt"/>
<line x1="288.1" y1="431.2" x2="371.7" y2="431.2" stroke="#2a2a2a" stroke-width="1.0" stroke-linecap="butt"/>
<polygon points="329.8,431.2 320.80,432.90 320.80,429.50" fill="#1e1e1e"/>
<polygon points="355.5,431.2 364.50,429.50 364.50,432.90" fill="#1e1e1e"/>
<text x="291" y="425.8" font-family="Liberation Sans" font-size="9" text-anchor="start" fill="#2a2a2a" dominant-baseline="central">M12 x 1</text>
<line x1="238.6" y1="362" x2="238.6" y2="455.7" stroke="#2a2a2a" stroke-width="1.0" stroke-linecap="butt"/>
<line x1="242.3" y1="371" x2="242.3" y2="455.7" stroke="#2a2a2a" stroke-width="1.0" stroke-linecap="butt"/>
<line x1="213.1" y1="453" x2="342.9" y2="453" stroke="#2a2a2a" stroke-width="1.0" stroke-linecap="butt"/>
<polygon points="238.6,453 229.60,454.70 229.60,451.30" fill="#1e1e1e"/>
<polygon points="242.3,453 251.30,451.30 251.30,454.70" fill="#1e1e1e"/>
<polygon points="342.9,453 333.90,454.70 333.90,451.30" fill="#1e1e1e"/>
<text x="219.3" y="447.0" font-family="Liberation Sans" font-size="9" text-anchor="middle" fill="#2a2a2a" dominant-baseline="central">1.5</text>
<text x="292.5" y="446.9" font-family="Liberation Sans" font-size="9" text-anchor="middle" fill="#2a2a2a" dominant-baseline="central">47.9</text>
<polygon points="197.4,478.6 214.3,475.5 214.3,540.4 197.4,536.7" stroke="#1a1a1a" stroke-width="1.0" fill="none" stroke-linejoin="round"/>
<defs><linearGradient id="kv5" x1="0" y1="0" x2="0" y2="1"><stop offset="0" stop-color="#2a2a2a"/><stop offset="0.12" stop-color="#444"/><stop offset="0.3" stop-color="#9a9a9a"/><stop offset="0.5" stop-color="#b0b0b0"/><stop offset="0.7" stop-color="#9a9a9a"/><stop offset="0.86" stop-color="#444"/><stop offset="1" stop-color="#2a2a2a"/></linearGradient></defs>
<rect x="214.3" y="475.5" width="12.5" height="64.89999999999998" fill="url(#kv5)" stroke="#1a1a1a" stroke-width="1"/>
<line x1="214.8" y1="483.61" x2="226.3" y2="483.61" stroke="#fff" stroke-width="0.64" stroke-opacity="0.68"/>
<line x1="214.8" y1="484.71" x2="226.3" y2="484.71" stroke="#222" stroke-width="0.8"/>
<line x1="214.8" y1="485.93" x2="226.3" y2="485.93" stroke="#fff" stroke-width="0.71" stroke-opacity="0.78"/>
<line x1="214.8" y1="487.03" x2="226.3" y2="487.03" stroke="#222" stroke-width="0.8"/>
<line x1="214.8" y1="488.25" x2="226.3" y2="488.25" stroke="#fff" stroke-width="0.78" stroke-opacity="0.88"/>
<line x1="214.8" y1="489.35" x2="226.3" y2="489.35" stroke="#222" stroke-width="0.8"/>
<line x1="214.8" y1="490.57" x2="226.3" y2="490.57" stroke="#fff" stroke-width="0.85" stroke-opacity="0.97"/>
<line x1="214.8" y1="491.67" x2="226.3" y2="491.67" stroke="#222" stroke-width="0.8"/>
<line x1="214.8" y1="492.88" x2="226.3" y2="492.88" stroke="#fff" stroke-width="0.91" stroke-opacity="1.00"/>
<line x1="214.8" y1="493.98" x2="226.3" y2="493.98" stroke="#222" stroke-width="0.8"/>
<line x1="214.8" y1="495.20" x2="226.3" y2="495.20" stroke="#fff" stroke-width="0.96" stroke-opacity="1.00"/>
<line x1="214.8" y1="496.30" x2="226.3" y2="496.30" stroke="#222" stroke-width="0.8"/>
<line x1="214.8" y1="497.52" x2="226.3" y2="497.52" stroke="#fff" stroke-width="1.01" stroke-opacity="1.00"/>
<line x1="214.8" y1="498.62" x2="226.3" y2="498.62" stroke="#222" stroke-width="0.8"/>
<line x1="214.8" y1="499.84" x2="226.3" y2="499.84" stroke="#fff" stroke-width="1.04" stroke-opacity="1.00"/>
<line x1="214.8" y1="500.94" x2="226.3" y2="500.94" stroke="#222" stroke-width="0.8"/>
<line x1="214.8" y1="502.16" x2="226.3" y2="502.16" stroke="#fff" stroke-width="1.07" stroke-opacity="1.00"/>
<line x1="214.8" y1="503.26" x2="226.3" y2="503.26" stroke="#222" stroke-width="0.8"/>
<line x1="214.8" y1="504.47" x2="226.3" y2="504.47" stroke="#fff" stroke-width="1.09" stroke-opacity="1.00"/>
<line x1="214.8" y1="505.57" x2="226.3" y2="505.57" stroke="#222" stroke-width="0.8"/>
<line x1="214.8" y1="506.79" x2="226.3" y2="506.79" stroke="#fff" stroke-width="1.10" stroke-opacity="1.00"/>
<line x1="214.8" y1="507.89" x2="226.3" y2="507.89" stroke="#222" stroke-width="0.8"/>
<line x1="214.8" y1="509.11" x2="226.3" y2="509.11" stroke="#fff" stroke-width="1.10" stroke-opacity="1.00"/>
<line x1="214.8" y1="510.21" x2="226.3" y2="510.21" stroke="#222" stroke-width="0.8"/>
<line x1="214.8" y1="511.43" x2="226.3" y2="511.43" stroke="#fff" stroke-width="1.09" stroke-opacity="1.00"/>
<line x1="214.8" y1="512.53" x2="226.3" y2="512.53" stroke="#222" stroke-width="0.8"/>
<line x1="214.8" y1="513.74" x2="226.3" y2="513.74" stroke="#fff" stroke-width="1.07" stroke-opacity="1.00"/>
<line x1="214.8" y1="514.84" x2="226.3" y2="514.84" stroke="#222" stroke-width="0.8"/>
<line x1="214.8" y1="516.06" x2="226.3" y2="516.06" stroke="#fff" stroke-width="1.04" stroke-opacity="1.00"/>
<line x1="214.8" y1="517.16" x2="226.3" y2="517.16" stroke="#222" stroke-width="0.8"/>
<line x1="214.8" y1="518.38" x2="226.3" y2="518.38" stroke="#fff" stroke-width="1.01" stroke-opacity="1.00"/>
<line x1="214.8" y1="519.48" x2="226.3" y2="519.48" stroke="#222" stroke-width="0.8"/>
<line x1="214.8" y1="520.70" x2="226.3" y2="520.70" stroke="#fff" stroke-width="0.96" stroke-opacity="1.00"/>
<line x1="214.8" y1="521.80" x2="226.3" y2="521.80" stroke="#222" stroke-width="0.8"/>
<line x1="214.8" y1="523.02" x2="226.3" y2="523.02" stroke="#fff" stroke-width="0.91" stroke-opacity="1.00"/>
<line x1="214.8" y1="524.12" x2="226.3" y2="524.12" stroke="#222" stroke-width="0.8"/>
<line x1="214.8" y1="525.33" x2="226.3" y2="525.33" stroke="#fff" stroke-width="0.85" stroke-opacity="0.97"/>
<line x1="214.8" y1="526.43" x2="226.3" y2="526.43" stroke="#222" stroke-width="0.8"/>
<line x1="214.8" y1="527.65" x2="226.3" y2="527.65" stroke="#fff" stroke-width="0.78" stroke-opacity="0.88"/>
<line x1="214.8" y1="528.75" x2="226.3" y2="528.75" stroke="#222" stroke-width="0.8"/>
<line x1="214.8" y1="529.97" x2="226.3" y2="529.97" stroke="#fff" stroke-width="0.71" stroke-opacity="0.78"/>
<line x1="214.8" y1="531.07" x2="226.3" y2="531.07" stroke="#222" stroke-width="0.8"/>
<line x1="214.8" y1="532.29" x2="226.3" y2="532.29" stroke="#fff" stroke-width="0.64" stroke-opacity="0.68"/>
<line x1="214.8" y1="533.39" x2="226.3" y2="533.39" stroke="#222" stroke-width="0.8"/>
<rect x="226.8" y="475.5" width="13.399999999999977" height="64.89999999999998" rx="0" stroke="#1a1a1a" stroke-width="1.0" fill="none"/>
<rect x="239.3" y="475.5" width="2.0" height="64.9" fill="#777"/>
<path d="M242.1,476.2 L244.8,473.3 L366.6,473.5 Q369.6,473.5 369.6,476.5 L369.6,539.6 Q369.6,542.6 366.6,542.6 L245.1,542.6 Q242.1,542.6 242.1,539.6 Z" stroke="#1a1a1a" stroke-width="1.6" fill="none" stroke-linejoin="round"/>
<line x1="243" y1="539.6" x2="369" y2="539.6" stroke="#222" stroke-width="1.1" stroke-linecap="butt"/>
<line x1="241.6" y1="475" x2="241.6" y2="542" stroke="#1a1a1a" stroke-width="1.8" stroke-linecap="butt"/>
<circle cx="282.2" cy="507.8" r="31.8" stroke="#1a1a1a" stroke-width="1.9" fill="none"/>
<circle cx="282.2" cy="507.8" r="31.8" stroke="#bbb" stroke-width="0.5" fill="none" stroke-dasharray="0.7 1.6"/>
<line x1="229.5" y1="507.8" x2="314" y2="507.8" stroke="#333" stroke-width="0.7" stroke-dasharray="7 2 1.2 2" stroke-linecap="butt"/>
<line x1="282.2" y1="476" x2="282.2" y2="539.6" stroke="#333" stroke-width="0.7" stroke-dasharray="7 2 1.2 2" stroke-linecap="butt"/>
<line x1="282.2" y1="539.6" x2="282.2" y2="566" stroke="#2a2a2a" stroke-width="1.0" stroke-linecap="butt"/>
<line x1="242.1" y1="543" x2="242.1" y2="566" stroke="#2a2a2a" stroke-width="1.0" stroke-linecap="butt"/>
<line x1="242.1" y1="562.8" x2="282.2" y2="562.8" stroke="#2a2a2a" stroke-width="1.0" stroke-linecap="butt"/>
<polygon points="242.1,562.8 251.10,561.10 251.10,564.50" fill="#1e1e1e"/>
<polygon points="282.2,562.8 273.20,564.50 273.20,561.10" fill="#1e1e1e"/>
<text x="261.7" y="557.6" font-family="Liberation Sans" font-size="9" text-anchor="middle" fill="#2a2a2a" dominant-baseline="central">19</text>
<line x1="471.2" y1="166" x2="471.2" y2="191" stroke="#2a2a2a" stroke-width="1.0" stroke-linecap="butt"/>
<line x1="506.1" y1="166" x2="506.1" y2="202" stroke="#2a2a2a" stroke-width="1.0" stroke-linecap="butt"/>
<line x1="471.2" y1="169.1" x2="506.1" y2="169.1" stroke="#2a2a2a" stroke-width="1.0" stroke-linecap="butt"/>
<polygon points="471.2,169.1 480.20,167.40 480.20,170.80" fill="#1e1e1e"/>
<polygon points="506.1,169.1 497.10,170.80 497.10,167.40" fill="#1e1e1e"/>
<text x="489" y="163.9" font-family="Liberation Sans" font-size="9" text-anchor="middle" fill="#2a2a2a" dominant-baseline="central">16.5</text>
<defs><linearGradient id="kh6" x1="0" y1="0" x2="1" y2="0"><stop offset="0" stop-color="#2a2a2a"/><stop offset="0.06" stop-color="#3a3a3a"/><stop offset="0.2" stop-color="#bbb"/><stop offset="0.5" stop-color="#eee"/><stop offset="0.8" stop-color="#bbb"/><stop offset="0.94" stop-color="#3a3a3a"/><stop offset="1" stop-color="#2a2a2a"/></linearGradient></defs>
<rect x="474.8" y="182.9" width="62.49999999999994" height="6.699999999999989" rx="1.2" fill="url(#kh6)" stroke="#1a1a1a" stroke-width="1.1"/>
<line x1="476.96" y1="183.4" x2="476.96" y2="189.1" stroke="#2a2a2a" stroke-width="0.85"/>
<line x1="479.11" y1="183.4" x2="479.11" y2="189.1" stroke="#2a2a2a" stroke-width="0.85"/>
<line x1="481.27" y1="183.4" x2="481.27" y2="189.1" stroke="#2a2a2a" stroke-width="0.85"/>
<line x1="483.42" y1="183.4" x2="483.42" y2="189.1" stroke="#2a2a2a" stroke-width="0.85"/>
<line x1="485.58" y1="183.4" x2="485.58" y2="189.1" stroke="#2a2a2a" stroke-width="0.85"/>
<line x1="487.73" y1="183.4" x2="487.73" y2="189.1" stroke="#2a2a2a" stroke-width="0.85"/>
<line x1="489.89" y1="183.4" x2="489.89" y2="189.1" stroke="#2a2a2a" stroke-width="0.85"/>
<line x1="492.04" y1="183.4" x2="492.04" y2="189.1" stroke="#2a2a2a" stroke-width="0.85"/>
<line x1="494.20" y1="183.4" x2="494.20" y2="189.1" stroke="#2a2a2a" stroke-width="0.85"/>
<line x1="496.35" y1="183.4" x2="496.35" y2="189.1" stroke="#2a2a2a" stroke-width="0.85"/>
<line x1="498.51" y1="183.4" x2="498.51" y2="189.1" stroke="#2a2a2a" stroke-width="0.85"/>
<line x1="500.66" y1="183.4" x2="500.66" y2="189.1" stroke="#2a2a2a" stroke-width="0.85"/>
<line x1="502.82" y1="183.4" x2="502.82" y2="189.1" stroke="#2a2a2a" stroke-width="0.85"/>
<line x1="504.97" y1="183.4" x2="504.97" y2="189.1" stroke="#2a2a2a" stroke-width="0.85"/>
<line x1="507.13" y1="183.4" x2="507.13" y2="189.1" stroke="#2a2a2a" stroke-width="0.85"/>
<line x1="509.28" y1="183.4" x2="509.28" y2="189.1" stroke="#2a2a2a" stroke-width="0.85"/>
<line x1="511.44" y1="183.4" x2="511.44" y2="189.1" stroke="#2a2a2a" stroke-width="0.85"/>
<line x1="513.59" y1="183.4" x2="513.59" y2="189.1" stroke="#2a2a2a" stroke-width="0.85"/>
<line x1="515.75" y1="183.4" x2="515.75" y2="189.1" stroke="#2a2a2a" stroke-width="0.85"/>
<line x1="517.90" y1="183.4" x2="517.90" y2="189.1" stroke="#2a2a2a" stroke-width="0.85"/>
<line x1="520.06" y1="183.4" x2="520.06" y2="189.1" stroke="#2a2a2a" stroke-width="0.85"/>
<line x1="522.21" y1="183.4" x2="522.21" y2="189.1" stroke="#2a2a2a" stroke-width="0.85"/>
<line x1="524.37" y1="183.4" x2="524.37" y2="189.1" stroke="#2a2a2a" stroke-width="0.85"/>
<line x1="526.52" y1="183.4" x2="526.52" y2="189.1" stroke="#2a2a2a" stroke-width="0.85"/>
<line x1="528.68" y1="183.4" x2="528.68" y2="189.1" stroke="#2a2a2a" stroke-width="0.85"/>
<line x1="530.83" y1="183.4" x2="530.83" y2="189.1" stroke="#2a2a2a" stroke-width="0.85"/>
<line x1="532.99" y1="183.4" x2="532.99" y2="189.1" stroke="#2a2a2a" stroke-width="0.85"/>
<line x1="535.14" y1="183.4" x2="535.14" y2="189.1" stroke="#2a2a2a" stroke-width="0.85"/>
<line x1="475.3" y1="183.8" x2="536.8" y2="183.8" stroke="#222" stroke-width="1.2"/>
<line x1="475.3" y1="188.7" x2="536.8" y2="188.7" stroke="#222" stroke-width="1.2"/>
<path d="M471.7,191 L537.9,191 Q541.0,191 541.0,194.1 L541.0,367.5 Q541.0,370.7 537.8,370.7 L475.0,370.7 Q471.7,370.7 471.7,367.4 Z" stroke="#1a1a1a" stroke-width="1.6" fill="none" stroke-linejoin="round"/>
<line x1="537.9" y1="191" x2="537.9" y2="370" stroke="#1a1a1a" stroke-width="1.1" stroke-linecap="butt"/>
<line x1="450.0" y1="191" x2="450.0" y2="348" stroke="#2a2a2a" stroke-width="1.0" stroke-linecap="butt"/>
<line x1="446.6" y1="191" x2="471.7" y2="191" stroke="#2a2a2a" stroke-width="1.0" stroke-linecap="butt"/>
<line x1="446.6" y1="289.4" x2="474" y2="289.4" stroke="#2a2a2a" stroke-width="1.0" stroke-linecap="butt"/>
<line x1="446.6" y1="348.0" x2="474" y2="348.0" stroke="#2a2a2a" stroke-width="1.0" stroke-linecap="butt"/>
<polygon points="450,191 451.70,200.00 448.30,200.00" fill="#1e1e1e"/>
<polygon points="450,231.4 448.30,222.40 451.70,222.40" fill="#1e1e1e"/>
<polygon points="450,231.4 451.70,240.40 448.30,240.40" fill="#1e1e1e"/>
<polygon points="450,289.4 448.30,280.40 451.70,280.40" fill="#1e1e1e"/>
<polygon points="450,289.4 451.70,298.40 448.30,298.40" fill="#1e1e1e"/>
<polygon points="450,348 448.30,339.00 451.70,339.00" fill="#1e1e1e"/>
<text x="444.2" y="210.5" font-family="Liberation Sans" font-size="9" text-anchor="middle" fill="#2a2a2a" dominant-baseline="central" transform="rotate(-90 444.2 210.5)">19</text>
<text x="444.4" y="259.9" font-family="Liberation Sans" font-size="9" text-anchor="middle" fill="#2a2a2a" dominant-baseline="central" transform="rotate(-90 444.4 259.9)">28</text>
<text x="444.4" y="318.7" font-family="Liberation Sans" font-size="9" text-anchor="middle" fill="#2a2a2a" dominant-baseline="central" transform="rotate(-90 444.4 318.7)">28</text>
<circle cx="506.1" cy="231.4" r="31.4" stroke="#1a1a1a" stroke-width="1.9" fill="none"/>
<circle cx="506.1" cy="231.4" r="31.4" stroke="#ccc" stroke-width="0.5" fill="none" stroke-dasharray="0.7 1.6"/>
<circle cx="506.1" cy="231.4" r="24.6" stroke="#1a1a1a" stroke-width="1.2" fill="none"/>
<line x1="446.6" y1="231.4" x2="471.7" y2="231.4" stroke="#2a2a2a" stroke-width="1.0" stroke-linecap="butt"/>
<line x1="471.7" y1="231.4" x2="540" y2="231.4" stroke="#333" stroke-width="0.7" stroke-dasharray="9 2 1.2 2" stroke-linecap="butt"/>
<line x1="506.1" y1="202" x2="506.1" y2="251" stroke="#333" stroke-width="0.8" stroke-dasharray="9 2 1.2 2" stroke-linecap="butt"/>
<line x1="506.1" y1="262.5" x2="506.1" y2="266" stroke="#333" stroke-width="0.9" stroke-linecap="butt"/>
<circle cx="479.2" cy="259" r="0.6" stroke="#1a1a1a" stroke-width="0" fill="#333"/>
<rect x="502.6" y="214.5" width="7.4" height="32.7" rx="0" stroke="#1a1a1a" stroke-width="1.3" fill="none"/>
<line x1="506.3" y1="215" x2="506.3" y2="247" stroke="#555" stroke-width="0.6" stroke-linecap="butt"/>
<line x1="509.1" y1="225.8" x2="552.7" y2="206.2" stroke="#333" stroke-width="0.8" stroke-linecap="butt"/>
<line x1="552.7" y1="206.2" x2="648.9" y2="206.2" stroke="#555" stroke-width="0.9" stroke-linecap="butt"/>
<text x="553" y="198.2" font-family="&quot;Liberation Serif&quot;, serif" font-size="8.85" text-anchor="start" fill="#555" dominant-baseline="central" font-weight="300">光斑形状及尺寸参见上表</text>
<rect x="474.6" y="277.09999999999997" width="62.9" height="24.8" rx="8" stroke="#1a1a1a" stroke-width="1.4" fill="none"/>
<circle cx="484.1" cy="289.4" r="7.0" stroke="#1a1a1a" stroke-width="1.1" fill="#3a3a3a"/>
<circle cx="484.1" cy="289.4" r="5.95" stroke="#f2f2f2" stroke-width="1.7" fill="none" stroke-dasharray="0.8 0.9"/>
<circle cx="484.1" cy="289.4" r="3.8" stroke="#1c1c1c" stroke-width="1.0" fill="#fff"/>
<line x1="478.6" y1="289.4" x2="489.6" y2="289.4" stroke="#1a1a1a" stroke-width="1.0" stroke-linecap="butt"/>
<line x1="484.1" y1="283.9" x2="484.1" y2="294.9" stroke="#1a1a1a" stroke-width="1.0" stroke-linecap="butt"/>
<circle cx="528.2" cy="289.4" r="7.0" stroke="#1a1a1a" stroke-width="1.1" fill="#3a3a3a"/>
<circle cx="528.2" cy="289.4" r="5.95" stroke="#f2f2f2" stroke-width="1.7" fill="none" stroke-dasharray="0.8 0.9"/>
<circle cx="528.2" cy="289.4" r="3.8" stroke="#1c1c1c" stroke-width="1.0" fill="#fff"/>
<line x1="522.7" y1="289.4" x2="533.7" y2="289.4" stroke="#1a1a1a" stroke-width="1.0" stroke-linecap="butt"/>
<line x1="528.2" y1="283.9" x2="528.2" y2="294.9" stroke="#1a1a1a" stroke-width="1.0" stroke-linecap="butt"/>
<path d="M493.1,282.59999999999997 L519.4,282.59999999999997 Q516.6,289.4 519.4,296.9 L493.1,296.9 Q495.9,289.4 493.1,282.59999999999997 Z" stroke="#1a1a1a" stroke-width="1.3" fill="none" stroke-linejoin="round"/>
<rect x="498" y="285.79999999999995" width="16.5" height="8.0" rx="0.5" stroke="#1a1a1a" stroke-width="1.1" fill="none"/>
<path d="M496.0,283.79999999999995 Q498.5,289.4 496.0,295.7" stroke="#555" stroke-width="0.6" fill="none" stroke-linejoin="round"/>
<path d="M516.5,283.79999999999995 Q514,289.4 516.5,295.7" stroke="#555" stroke-width="0.6" fill="none" stroke-linejoin="round"/>
<rect x="474.6" y="335.7" width="62.9" height="24.8" rx="8" stroke="#1a1a1a" stroke-width="1.4" fill="none"/>
<circle cx="484.1" cy="348.0" r="7.0" stroke="#1a1a1a" stroke-width="1.1" fill="#3a3a3a"/>
<circle cx="484.1" cy="348.0" r="5.95" stroke="#f2f2f2" stroke-width="1.7" fill="none" stroke-dasharray="0.8 0.9"/>
<circle cx="484.1" cy="348.0" r="3.8" stroke="#1c1c1c" stroke-width="1.0" fill="#fff"/>
<line x1="478.6" y1="348.0" x2="489.6" y2="348.0" stroke="#1a1a1a" stroke-width="1.0" stroke-linecap="butt"/>
<line x1="484.1" y1="342.5" x2="484.1" y2="353.5" stroke="#1a1a1a" stroke-width="1.0" stroke-linecap="butt"/>
<circle cx="528.2" cy="348.0" r="7.0" stroke="#1a1a1a" stroke-width="1.1" fill="#3a3a3a"/>
<circle cx="528.2" cy="348.0" r="5.95" stroke="#f2f2f2" stroke-width="1.7" fill="none" stroke-dasharray="0.8 0.9"/>
<circle cx="528.2" cy="348.0" r="3.8" stroke="#1c1c1c" stroke-width="1.0" fill="#fff"/>
<line x1="522.7" y1="348.0" x2="533.7" y2="348.0" stroke="#1a1a1a" stroke-width="1.0" stroke-linecap="butt"/>
<line x1="528.2" y1="342.5" x2="528.2" y2="353.5" stroke="#1a1a1a" stroke-width="1.0" stroke-linecap="butt"/>
<path d="M493.1,341.2 L519.4,341.2 Q516.6,348.0 519.4,355.5 L493.1,355.5 Q495.9,348.0 493.1,341.2 Z" stroke="#1a1a1a" stroke-width="1.3" fill="none" stroke-linejoin="round"/>
<rect x="498" y="344.4" width="16.5" height="8.0" rx="0.5" stroke="#1a1a1a" stroke-width="1.1" fill="none"/>
<path d="M496.0,342.4 Q498.5,348.0 496.0,354.3" stroke="#555" stroke-width="0.6" fill="none" stroke-linejoin="round"/>
<path d="M516.5,342.4 Q514,348.0 516.5,354.3" stroke="#555" stroke-width="0.6" fill="none" stroke-linejoin="round"/>
<line x1="484.1" y1="317.7" x2="484.1" y2="340" stroke="#2a2a2a" stroke-width="1.0" stroke-linecap="butt"/>
<line x1="528.2" y1="317.7" x2="528.2" y2="330.3" stroke="#2a2a2a" stroke-width="1.0" stroke-linecap="butt"/>
<line x1="484.1" y1="320.4" x2="528.2" y2="320.4" stroke="#2a2a2a" stroke-width="1.0" stroke-linecap="butt"/>
<polygon points="484.1,320.4 493.10,318.70 493.10,322.10" fill="#1e1e1e"/>
<polygon points="528.2,320.4 519.20,322.10 519.20,318.70" fill="#1e1e1e"/>
<text x="505.8" y="315" font-family="Liberation Sans" font-size="9" text-anchor="middle" fill="#2a2a2a" dominant-baseline="central">21</text>
<line x1="561.8" y1="245.7" x2="561.8" y2="371.1" stroke="#2a2a2a" stroke-width="1.0" stroke-linecap="butt"/>
<line x1="541.5" y1="343.1" x2="564.5" y2="343.1" stroke="#2a2a2a" stroke-width="1.0" stroke-linecap="butt"/>
<line x1="541.5" y1="353.9" x2="564.5" y2="353.9" stroke="#2a2a2a" stroke-width="1.0" stroke-linecap="butt"/>
<polygon points="561.8,343.1 560.10,334.10 563.50,334.10" fill="#1e1e1e"/>
<polygon points="561.8,353.9 563.50,362.90 560.10,362.90" fill="#1e1e1e"/>
<text x="556.2" y="284.9" font-family="Liberation Sans" font-size="8.8" text-anchor="middle" fill="#2a2a2a" dominant-baseline="central" transform="rotate(-90 556.2 284.9)">M5 - 螺纹深度为 5 mm</text>
<text x="570" y="318.6" font-family="Liberation Sans" font-size="8.8" text-anchor="middle" fill="#2a2a2a" dominant-baseline="central" transform="rotate(-90 570 318.6)">(8x)</text>
<polyline points="485.6,370.8 487,381.5 525.2,381.5 526.6,370.8" stroke="#1a1a1a" stroke-width="1.4" fill="none" stroke-linejoin="round"/>
<rect x="486.4" y="381.5" width="39.2" height="5.8" rx="0" stroke="#1a1a1a" stroke-width="1.3" fill="none"/>
<line x1="492.9" y1="381.5" x2="492.9" y2="387.3" stroke="#1a1a1a" stroke-width="1.1" stroke-linecap="butt"/>
<line x1="499.5" y1="381.5" x2="499.5" y2="387.3" stroke="#1a1a1a" stroke-width="1.1" stroke-linecap="butt"/>
<line x1="506.1" y1="381.5" x2="506.1" y2="387.3" stroke="#1a1a1a" stroke-width="1.1" stroke-linecap="butt"/>
<line x1="512.7" y1="381.5" x2="512.7" y2="387.3" stroke="#1a1a1a" stroke-width="1.1" stroke-linecap="butt"/>
<line x1="519.2" y1="381.5" x2="519.2" y2="387.3" stroke="#1a1a1a" stroke-width="1.1" stroke-linecap="butt"/>
<path d="M494.1,389.6 L494.1,387.8 L518.6999999999999,387.8 L518.6999999999999,389.6" stroke="#1a1a1a" stroke-width="1.1" fill="none" stroke-linejoin="round"/>
<rect x="493.5" y="389.6" width="25.799999999999955" height="17.69999999999999" rx="0.8" stroke="#1a1a1a" stroke-width="1.5" fill="none"/>
<rect x="494.3" y="405.1" width="24.199999999999953" height="2.2" fill="#666"/>
<rect x="494.5" y="407.3" width="23.799999999999955" height="3.8000000000000114" rx="0" stroke="#1a1a1a" stroke-width="1.3" fill="none"/>
<line x1="506.4" y1="368.8" x2="506.4" y2="411.5" stroke="#222" stroke-width="0.8" stroke-dasharray="7 2.5 1.2 2.5" stroke-linecap="butt"/>
<rect x="453.5" y="27.5" width="160" height="95" rx="0" stroke="#1a1a1a" stroke-width="1.0" fill="none"/>
<line x1="511.5" y1="27.5" x2="511.5" y2="122.5" stroke="#1a1a1a" stroke-width="1.0" stroke-linecap="butt"/>
<line x1="453.5" y1="45.5" x2="613.5" y2="45.5" stroke="#1a1a1a" stroke-width="1.0" stroke-linecap="butt"/>
<line x1="453.5" y1="88.5" x2="613.5" y2="88.5" stroke="#1a1a1a" stroke-width="1.0" stroke-linecap="butt"/>
<line x1="453.5" y1="105.5" x2="613.5" y2="105.5" stroke="#1a1a1a" stroke-width="1.0" stroke-linecap="butt"/>
<text x="526.7" y="38.0" font-family="&quot;Liberation Serif&quot;, serif" font-size="8.9" text-anchor="start" fill="#555" dominant-baseline="central" font-weight="300">传感器范围 <tspan font-family="Liberation Sans" fill="#2a2a2a">50 mm</tspan></text>
<text x="461.4" y="64.3" font-family="&quot;Liberation Serif&quot;, serif" font-size="8.9" text-anchor="start" fill="#555" dominant-baseline="central" font-weight="300">标准型</text>
<text x="461.4" y="96.2" font-family="&quot;Liberation Serif&quot;, serif" font-size="8.9" text-anchor="start" fill="#555" dominant-baseline="central" font-weight="300">代码 <tspan font-family="Liberation Sans" fill="#2a2a2a">/A</tspan></text>
<text x="461.4" y="115.8" font-family="&quot;Liberation Serif&quot;, serif" font-size="8.9" text-anchor="start" fill="#555" dominant-baseline="central" font-weight="300">代码 <tspan font-family="Liberation Sans" fill="#2a2a2a">/B</tspan></text>
<rect x="523.2" y="57.6" width="4.7" height="17.3" rx="0" stroke="#222" stroke-width="1.1" fill="none"/>
<text x="534.2" y="66.0" font-family="Liberation Sans" font-size="9.0" text-anchor="start" fill="#2a2a2a" dominant-baseline="central">3 mm x 16 mm</text>
<rect x="523.2" y="94.1" width="17.4" height="4.4" rx="0" stroke="#222" stroke-width="1.1" fill="none"/>
<text x="543.1" y="96.7" font-family="Liberation Sans" font-size="9.0" text-anchor="start" fill="#2a2a2a" dominant-baseline="central">16 mm x 3 mm</text>
<circle cx="529.5" cy="114.4" r="3.3" stroke="#222" stroke-width="1.1" fill="none"/>
<text x="547.2" y="114.6" font-family="Liberation Sans" font-size="9.2" text-anchor="start" fill="#2a2a2a" dominant-baseline="central">Ø6 mm</text>
<text x="489.8" y="444" font-family="&quot;Liberation Serif&quot;, serif" font-size="8.7" text-anchor="start" fill="#555" dominant-baseline="central" font-weight="300">接插件连接</text>
<path d="M522.98,476.07 A18.0,18.0 0 1 1 520.17,473.11 A2.05,2.05 0 0 0 522.98,476.07" stroke="#1a1a1a" stroke-width="1.5" fill="none" stroke-linejoin="round"/>
<circle cx="508.7" cy="474.8" r="2.75" stroke="#1a1a1a" stroke-width="1.3" fill="none"/>
<circle cx="496.9" cy="486.9" r="2.75" stroke="#1a1a1a" stroke-width="1.3" fill="none"/>
<circle cx="508.7" cy="486.9" r="2.75" stroke="#1a1a1a" stroke-width="1.3" fill="none"/>
<circle cx="520.3" cy="486.9" r="2.75" stroke="#1a1a1a" stroke-width="1.3" fill="none"/>
<circle cx="508.7" cy="499.0" r="2.75" stroke="#1a1a1a" stroke-width="1.3" fill="none"/>
<line x1="510.6" y1="488.8" x2="525.3" y2="503.4" stroke="#222" stroke-width="1.0" stroke-linecap="butt"/>
<text x="507.1" y="462.1" font-family="Liberation Sans" font-size="9" text-anchor="middle" fill="#2a2a2a" dominant-baseline="central">2</text>
<text x="484.6" y="486.9" font-family="Liberation Sans" font-size="9" text-anchor="middle" fill="#2a2a2a" dominant-baseline="central">3</text>
<text x="531.8" y="486.9" font-family="Liberation Sans" font-size="9" text-anchor="middle" fill="#2a2a2a" dominant-baseline="central">1</text>
<text x="508.8" y="511.0" font-family="Liberation Sans" font-size="9" text-anchor="middle" fill="#2a2a2a" dominant-baseline="central">4</text>
<text x="528.8" y="505.8" font-family="Liberation Sans" font-size="9" text-anchor="middle" fill="#2a2a2a" dominant-baseline="central">5</text>
</svg></body></html>
